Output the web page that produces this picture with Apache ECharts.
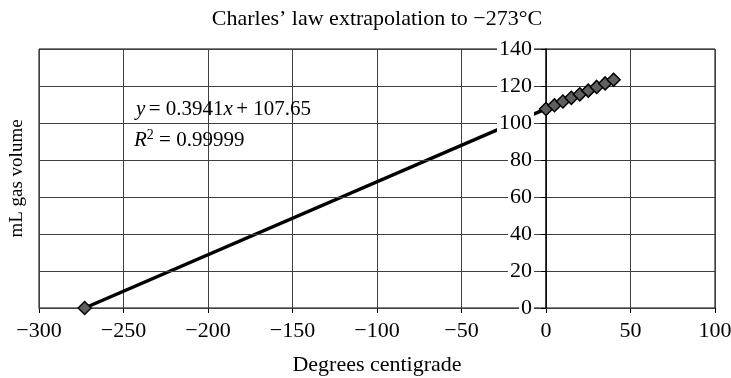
<!DOCTYPE html>
<html>
<head>
<meta charset="utf-8">
<script src="https://cdn.jsdelivr.net/npm/echarts@6/dist/echarts.min.js"></script>
<style>html,body{margin:0;padding:0;background:#fff;}#c{width:731px;height:378px;}</style>
</head>
<body>
<div id="c"></div>
<script>
// Data
var temperatures = [-273, 0, 5, 10, 15, 20, 25, 30, 35, 40];
var volumes = [0, 107.6, 109.6, 111.6, 113.6, 115.5, 117.5, 119.5, 121.4, 123.4];
var xTicks = [-300, -250, -200, -150, -100, -50, 0, 50, 100];
var yTicks = [0, 20, 40, 60, 80, 100, 120, 140];
var equationText = ['0.3941', '107.65'];
var r2Text = '0.99999';
var titleText = 'Charles\u2019 law extrapolation to \u2212273\u00B0C';
var xName = 'Degrees centigrade';
var yName = 'mL gas volume';

// least-squares linear trendline from the data
var n = temperatures.length, sx = 0, sy = 0, sxx = 0, sxy = 0;
for (var i = 0; i < n; i++) { sx += temperatures[i]; sy += volumes[i]; sxx += temperatures[i]*temperatures[i]; sxy += temperatures[i]*volumes[i]; }
var slope = (n*sxy - sx*sy) / (n*sxx - sx*sx);
var intercept = (sy - slope*sx) / n;
var xMinD = Math.min.apply(null, temperatures), xMaxD = Math.max.apply(null, temperatures);
var trend = [[xMinD, slope*xMinD + intercept], [xMaxD, slope*xMaxD + intercept]];

var points = temperatures.map(function (t, i) { return [t, volumes[i]]; });
var FONT = '"Liberation Serif", "DejaVu Serif", serif';
function minus(v) { return String(v).replace('-', '\u2212'); }
var xMin = xTicks[0], xMax = xTicks[xTicks.length-1];
var yMin = yTicks[0], yMax = yTicks[yTicks.length-1];

var W = 731, GL = 39, GR = 16;
// place the value axis where x = 0 (as the reference does)
var zeroOffset = -((0 - xMin) / (xMax - xMin)) * (W - GL - GR);

var chart = echarts.init(document.getElementById('c'), null, {renderer: 'canvas'});
chart.setOption({
  animation: false,
  backgroundColor: '#fff',
  title: {
    text: titleText, left: 372, top: 3, textAlign: 'center',
    textStyle: {fontFamily: FONT, fontSize: 22, fontWeight: 'normal', color: '#000'}
  },
  grid: {left: GL, right: GR, top: 49, bottom: 70, containLabel: false, outerBoundsMode: 'none',
         show: true, borderColor: '#000', borderWidth: 1},
  xAxis: {
    type: 'value', min: xMin, max: xMax, interval: 50,
    name: xName, nameLocation: 'middle', nameGap: 46,
    nameTextStyle: {fontFamily: FONT, fontSize: 22, color: '#000'},
    axisLine: {onZero: false, lineStyle: {color: '#000', width: 1}},
    axisTick: {show: true, length: 5, lineStyle: {color: '#000'}},
    axisLabel: {fontFamily: FONT, fontSize: 22, color: '#000', margin: 12, formatter: minus},
    splitLine: {show: true, lineStyle: {color: '#404040', width: 1}}
  },
  yAxis: [
    {
      type: 'value', position: 'left', offset: zeroOffset, min: yMin, max: yMax, interval: 20, z: 3,
      axisLine: {show: true, onZero: false, lineStyle: {color: '#000', width: 1.5}},
      axisTick: {show: true, length: 5, lineStyle: {color: '#000'}},
      axisLabel: {fontFamily: FONT, fontSize: 22, color: '#000', margin: 12,
        backgroundColor: '#fff', padding: [0, 2, 0, 2]},
      splitLine: {show: true, lineStyle: {color: '#404040', width: 1}}
    },
    {
      type: 'value', position: 'left', offset: 0, min: yMin, max: yMax,
      name: yName, nameLocation: 'middle', nameGap: 12, nameRotate: 90,
      nameTextStyle: {fontFamily: FONT, fontSize: 19, color: '#000'},
      axisLine: {show: false, onZero: false}, axisTick: {show: false},
      axisLabel: {show: false}, splitLine: {show: false}
    }
  ],
  series: [
    {
      type: 'line', data: trend, yAxisIndex: 0, showSymbol: false, symbol: 'none',
      lineStyle: {color: '#000', width: 3.5}, z: 2, silent: true
    },
    {
      type: 'scatter', data: points, yAxisIndex: 0,
      symbol: 'path://M0,-1 L1,0 L0,1 L-1,0 Z', symbolSize: [13, 13],
      itemStyle: {color: '#5f5f5f', borderColor: '#000', borderWidth: 1.5, opacity: 1}, z: 5
    }
  ],
  graphic: [
    {
      type: 'text', left: 136, top: 99, z: 20,
      style: {
        rich: {
          i: {fontFamily: FONT, fontSize: 21, fontStyle: 'italic', fill: '#000'},
          n: {fontFamily: FONT, fontSize: 21, fill: '#000'}
        },
        text: '{i|y} {n|= ' + equationText[0] + '}{i|x} {n|+ ' + equationText[1] + '}'
      }
    },
    {
      type: 'text', left: 134, top: 128, z: 20,
      style: {
        rich: {
          i: {fontFamily: FONT, fontSize: 21, fontStyle: 'italic', fill: '#000'},
          s: {fontFamily: FONT, fontSize: 14, fill: '#000', verticalAlign: 'top', padding: [0, 0, 10, 0]},
          n: {fontFamily: FONT, fontSize: 21, fill: '#000'}
        },
        text: '{i|R}{s|2}{n| = ' + r2Text + '}'
      }
    }
  ]
});
</script>
</body>
</html>
